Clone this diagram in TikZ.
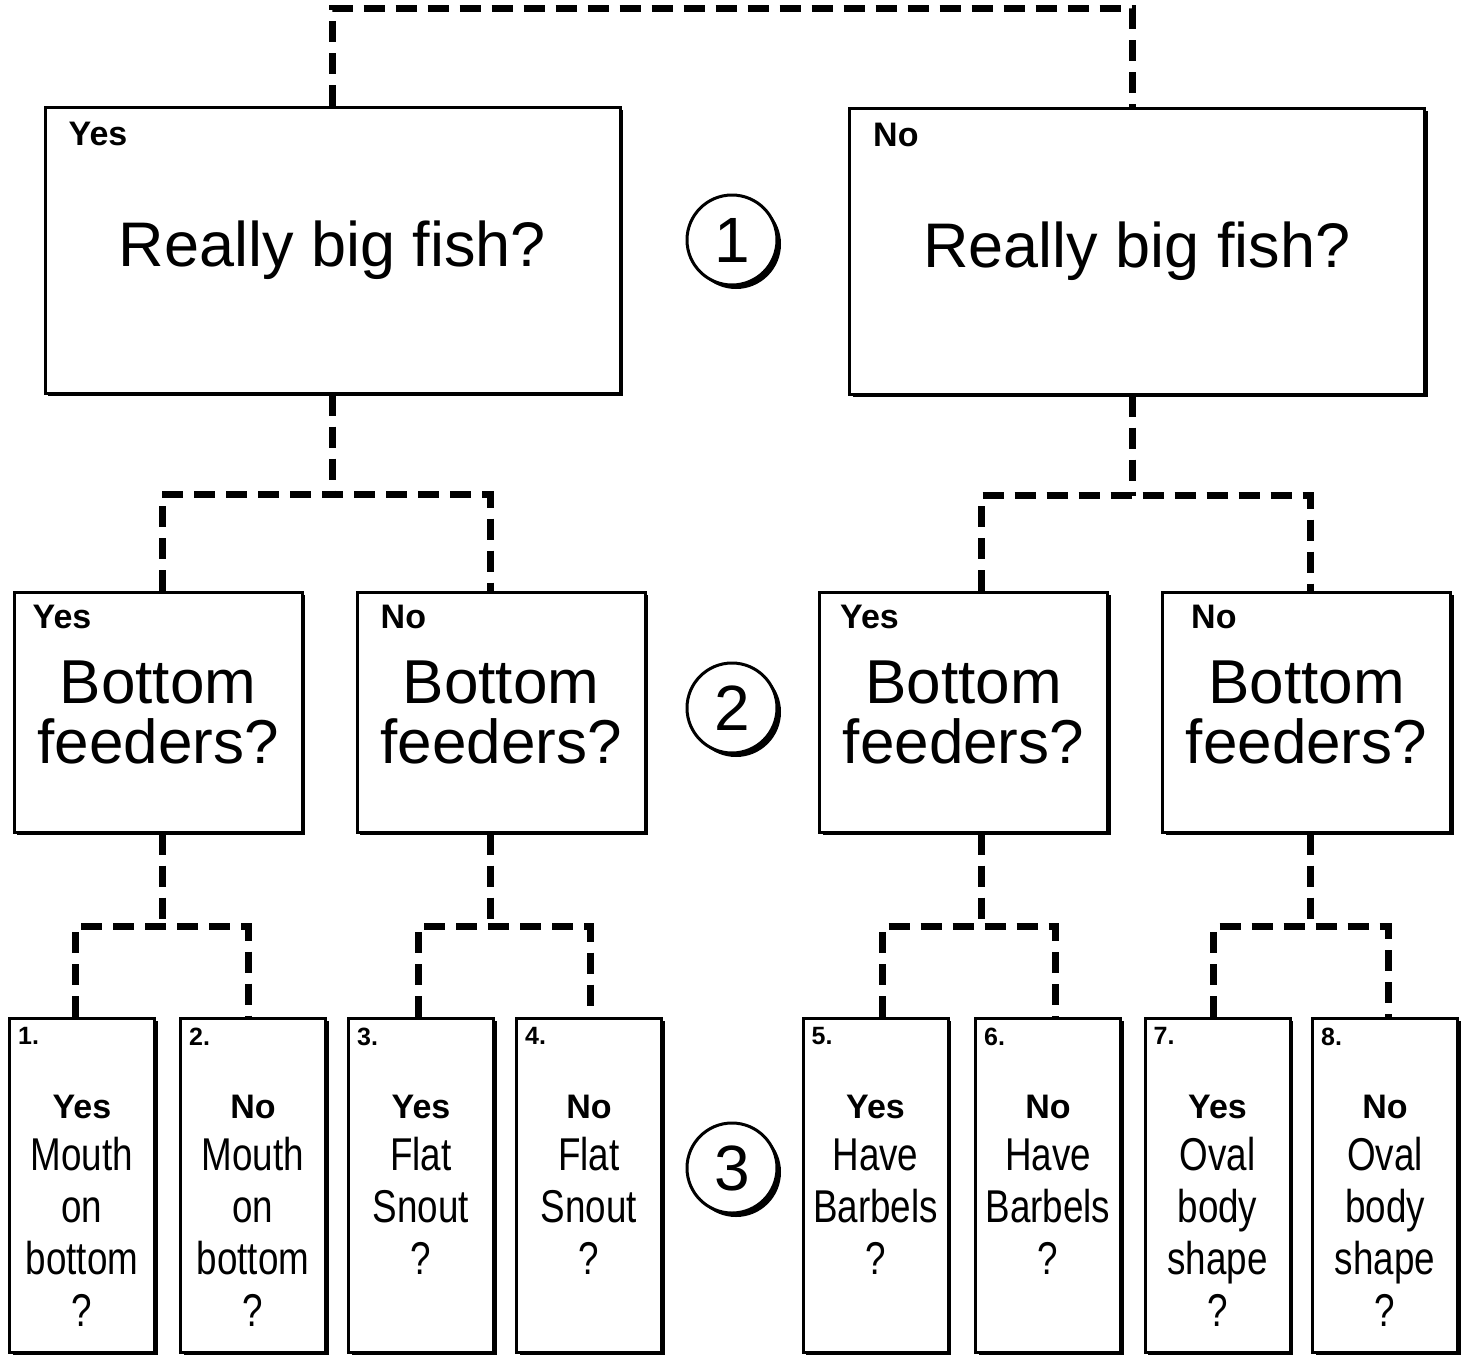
\documentclass[tikz,border=0pt]{standalone}
\usepackage{fontspec}
\setmainfont{Liberation Sans}
\newfontfamily\narrowfont[FakeStretch=0.8]{Liberation Sans}
\usetikzlibrary{shadows}

\tikzset{
  box/.style={draw,line width=3pt,fill=white,inner sep=0pt,
    drop shadow={shadow xshift=3pt,shadow yshift=-3pt,fill=black,opacity=1}},
  bigbox/.style={box,minimum width=575pt,minimum height=286pt,
    font=\fontsize{63}{70}\selectfont},
  midbox/.style={box,minimum width=288pt,minimum height=240pt,align=center,
    font=\fontsize{62}{60}\selectfont},
  leafbox/.style={box,minimum width=145pt,minimum height=334pt},
  leaftext/.style={align=center,inner sep=0pt,font=\narrowfont\fontsize{46}{52}\selectfont},
  tag/.style={inner sep=0pt,anchor=north west,font=\bfseries\fontsize{34}{34}\selectfont},
  num/.style={inner sep=0pt,anchor=north west,xshift=10pt,yshift=-11pt,
    font=\bfseries\fontsize{25}{25}\selectfont},
  numcircle/.style={circle,draw,line width=3pt,fill=white,minimum size=90pt,inner sep=0pt,
    font=\fontsize{64}{64}\selectfont,
    drop shadow={shadow xshift=4pt,shadow yshift=-4pt,fill=black,opacity=1}},
  link/.style={line width=7pt,dash pattern=on 21pt off 11pt}
}
\newcommand{\yn}[1]{{\rmfamily\bfseries\fontsize{34}{52}\selectfont #1}}

\begin{document}
\begin{tikzpicture}[x=1pt,y=-1pt]
    \useasboundingbox (0,0) rectangle (1465,1355);

    % level 1
    \node[bigbox,label={[tag,xshift=25pt,yshift=-16pt]north west:Yes}] (b1) at (332.5,250) {\raisebox{5pt}{Really big fish?}};
    \node[bigbox,label={[tag,xshift=25pt,yshift=-16pt]north west:No}] (b2) at (1137,251) {\raisebox{5pt}{Really big fish?}};

    % level 2
    \node[midbox,label={[tag,xshift=20pt,yshift=-14pt]north west:Yes}] (m1) at (158,712) {Bottom\\feeders?};
    \node[midbox,label={[tag,xshift=25pt,yshift=-14pt]north west:No}] (m2) at (501,712) {Bottom\\feeders?};
    \node[midbox,label={[tag,xshift=22pt,yshift=-14pt]north west:Yes}] (m3) at (963.5,712) {Bottom\\feeders?};
    \node[midbox,label={[tag,xshift=30pt,yshift=-14pt]north west:No}] (m4) at (1306.5,712) {Bottom\\feeders?};

    % level 3
    \node[leafbox,label={[num]north west:1.}] (l1) at (82,1185) {};
    \node[leafbox,label={[num]north west:2.}] (l2) at (253,1185) {};
    \node[leafbox,label={[num]north west:3.}] (l3) at (421,1185) {};
    \node[leafbox,label={[num]north west:4.}] (l4) at (589,1185) {};
    \node[leafbox,label={[num]north west:5.}] (l5) at (875.5,1185) {};
    \node[leafbox,label={[num]north west:6.}] (l6) at (1048,1185) {};
    \node[leafbox,label={[num]north west:7.}] (l7) at (1217.5,1185) {};
    \node[leafbox,label={[num]north west:8.}] (l8) at (1385,1185) {};

    \node[leaftext] (t1) at (82,1211) {\yn{Yes}\\Mouth\\on\\bottom\\?};
    \node[leaftext] (t2) at (253,1211) {\yn{No}\\Mouth\\on\\bottom\\?};
    \node[leaftext] (t3) at (421,1211) {\yn{Yes}\\Flat\\Snout\\?\\\phantom{?}};
    \node[leaftext] (t4) at (589,1211) {\yn{No}\\Flat\\Snout\\?\\\phantom{?}};
    \node[leaftext] (t5) at (875.5,1211) {\yn{Yes}\\Have\\Barbels\\?\\\phantom{?}};
    \node[leaftext] (t6) at (1048,1211) {\yn{No}\\Have\\Barbels\\?\\\phantom{?}};
    \node[leaftext] (t7) at (1217.5,1211) {\yn{Yes}\\Oval\\body\\shape\\?};
    \node[leaftext] (t8) at (1385,1211) {\yn{No}\\Oval\\body\\shape\\?};

    % step numbers
    \node[numcircle] (c1) at (732,240) {1};
    \node[numcircle] (c2) at (732,708) {2};
    \node[numcircle] (c3) at (732,1168) {3};

    % dashed connectors
    \draw[link] (b1.north) -- ++(0,-97) -| ([xshift=-5pt]b2.north);

    \draw[link] (b1.south) -- ++(0,100) coordinate (j1);
    \draw[link] ([xshift=4pt]m1.north) |- (j1) -| ([xshift=-11pt]m2.north);
    \draw[link] ([xshift=-5pt]b2.south) -- ++(0,100) coordinate (j2);
    \draw[link] ([xshift=18pt]m3.north) |- (j2) -| ([xshift=4pt]m4.north);

    \draw[link] ([xshift=4pt]m1.south) -- ++(0,93) coordinate (ja);
    \draw[link] ([xshift=-7pt]l1.north) |- (ja) -| ([xshift=-5pt]l2.north);
    \draw[link] ([xshift=-11pt]m2.south) -- ++(0,93) coordinate (jb);
    \draw[link] ([xshift=-3pt]l3.north) |- (jb) -| ([xshift=1pt]l4.north);
    \draw[link] ([xshift=18pt]m3.south) -- ++(0,93) coordinate (jc);
    \draw[link] ([xshift=7pt]l5.north) |- (jc) -| ([xshift=7pt]l6.north);
    \draw[link] ([xshift=4pt]m4.south) -- ++(0,93) coordinate (jd);
    \draw[link] ([xshift=-4pt]l7.north) |- (jd) -| ([xshift=3pt]l8.north);
\end{tikzpicture}
\end{document}
